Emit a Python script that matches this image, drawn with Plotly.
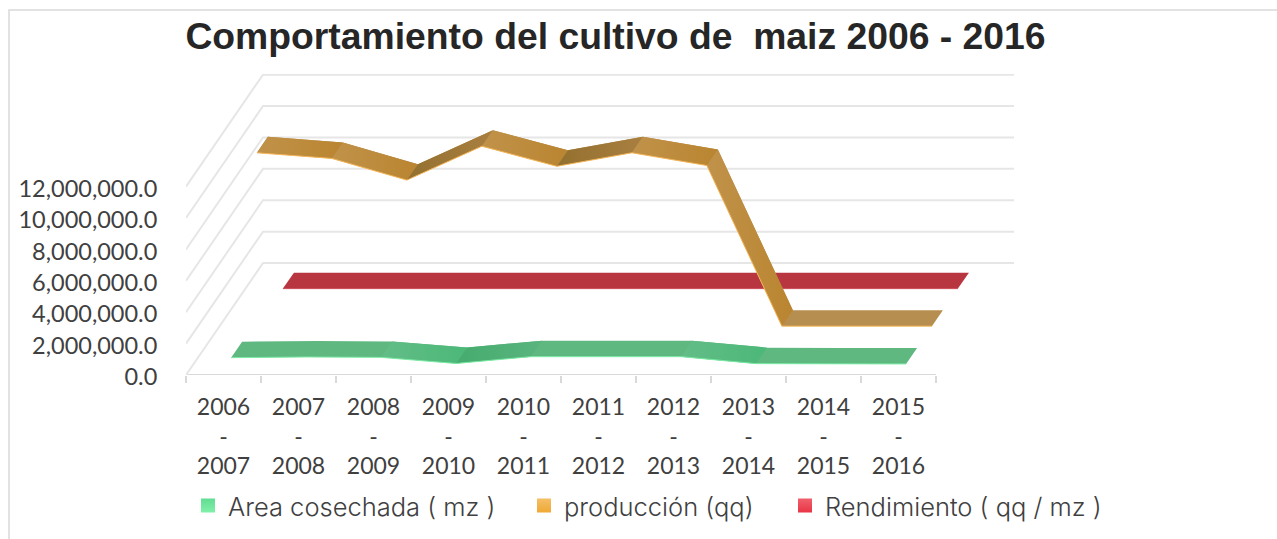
import plotly.graph_objects as go

categories = ["2006<br>-<br>2007", "2007<br>-<br>2008", "2008<br>-<br>2009", "2009<br>-<br>2010", "2010<br>-<br>2011",
              "2011<br>-<br>2012", "2012<br>-<br>2013", "2013<br>-<br>2014", "2014<br>-<br>2015", "2015<br>-<br>2016"]
area = [400000, 445000, 420000, 30000, 465000, 465000, 465000, 20000, 0, 0]
produccion = [11060000, 10700000, 9320000, 11480000, 10200000, 11060000, 10250000, 20000, 20000, 20000]
rendimiento = [25, 25, 25, 25, 25, 25, 25, 25, 25, 25]
y_ticks = [0, 2000000, 4000000, 6000000, 8000000, 10000000, 12000000]

FONT = "Lato"
TEXT = "#404040"
GRID = "#E6E6E6"

# pixel box of the plot area, the axes below are fitted to it
WIDTH, HEIGHT = 1277, 539
LEFT, RIGHT, TOP, BOTTOM = 186, 1014, 74, 375
X_MIN, X_MAX = -0.5, 10.54
Y_MAX = 19170000

# fake 3d: how far the back wall is shifted from the front, in axis units
DEPTH_X = 77 / 75
DEPTH_Y = 7130000
RIBBON = 0.0714


def px_x(px):
    return (px - LEFT) / (RIGHT - LEFT)


def px_y(py):
    return (BOTTOM - py) / (BOTTOM - TOP)


def project(i, value, depth):
    return i + depth * DEPTH_X, value + depth * DEPTH_Y


def add_ribbon(fig, values, depth, base, colors, edge):
    front = [project(i, v, depth - RIBBON) for i, v in enumerate(values)]
    back = [project(i, v, depth + RIBBON) for i, v in enumerate(values)]
    # whole ribbon underneath so no seams show between the segments
    outline = front + back[::-1] + front[:1]
    fig.add_trace(go.Scatter(x=[p[0] for p in outline], y=[p[1] for p in outline], mode="none", fill="toself",
                             fillcolor=base, showlegend=False, hoverinfo="skip"))
    for i, pair in enumerate(colors):
        if pair is None:
            continue
        corners = [front[i], front[i + 1], back[i + 1], back[i], front[i]]
        fig.add_trace(go.Scatter(x=[c[0] for c in corners], y=[c[1] for c in corners], mode="none", fill="toself",
                                 showlegend=False, hoverinfo="skip",
                                 fillgradient=dict(type="horizontal", colorscale=[[0, pair[0]], [1, pair[1]]])))
    fig.add_trace(go.Scatter(x=[p[0] for p in front], y=[p[1] for p in front], mode="lines",
                             line=dict(color=edge, width=1), showlegend=False, hoverinfo="skip"))


fig = go.Figure()

# walls
for v in y_ticks:
    fig.add_trace(go.Scatter(x=[X_MIN, X_MIN + DEPTH_X, X_MAX], y=[v, v + DEPTH_Y, v + DEPTH_Y], mode="lines",
                             line=dict(color=GRID, width=2), showlegend=False, hoverinfo="skip"))

GREEN_DOWN = ("#63BD87", "#4BB878")
GREEN_UP = ("#45AB6E", "#5AB57E")
ORANGE_DOWN = ("#C0924A", "#BA8530")
ORANGE_UP = ("#93702F", "#A97F40")

add_ribbon(fig, rendimiento, 0.843, "#B83640", [None] * 9, "#C94A54")
add_ribbon(fig, produccion, 0.505, "#B68F50",
           [ORANGE_DOWN, ORANGE_DOWN, ORANGE_UP, ORANGE_DOWN, ORANGE_UP, ORANGE_DOWN, ORANGE_DOWN, None, None],
           "#F5B75A")
add_ribbon(fig, area, 0.17, "#5FB880",
           [None, None, GREEN_DOWN, GREEN_UP, None, None, GREEN_DOWN, None, None],
           "#7CEBA5")

# legend entries, one legend each so they can sit where the original has them
for name, top, bottom, key in [("Area cosechada ( mz )", "#62DC93", "#80F0AA", "legend"),
                               ("producción (qq)", "#F5BE68", "#F0A934", "legend2"),
                               ("Rendimiento ( qq / mz )", "#F0606C", "#E83444", "legend3")]:
    fig.add_trace(go.Scatter(x=[None], y=[None], mode="markers", name=name, legend=key,
                             marker=dict(symbol="square", size=14, color=top, line=dict(width=0),
                                         gradient=dict(type="vertical", color=bottom))))

legend_style = dict(orientation="h", xanchor="left", yanchor="middle", y=px_y(506), bgcolor="rgba(0,0,0,0)",
                    font=dict(family="Inter", size=25.5, color=TEXT, weight=300))

fig.update_layout(
    width=WIDTH, height=HEIGHT,
    margin=dict(l=LEFT, r=WIDTH - RIGHT, t=TOP, b=HEIGHT - BOTTOM, autoexpand=False),
    paper_bgcolor="white", plot_bgcolor="white",
    title=dict(text="Comportamiento del cultivo de  maiz 2006 - 2016", xref="container", yref="container",
               x=615.5 / WIDTH, y=1 - 35.5 / HEIGHT, xanchor="center", yanchor="middle",
               font=dict(family="Liberation Sans", size=37.3, color="#262626", weight="bold")),
    legend=dict(x=px_x(188), **legend_style),
    legend2=dict(x=px_x(524), **legend_style),
    legend3=dict(x=px_x(785), **legend_style),
    xaxis=dict(range=[X_MIN, X_MAX], tickmode="array", tickvals=list(range(10)), ticktext=categories,
               ticks="outside", ticklen=11, tickcolor="rgba(0,0,0,0)", showgrid=False, zeroline=False,
               showline=False, tickangle=0, tickfont=dict(family=FONT, size=23, color=TEXT),
               minor=dict(tickmode="array", tickvals=[i - 0.5 for i in range(11)], ticks="outside", ticklen=7,
                          tickcolor="#D9D9D9", tickwidth=1.5, showgrid=False)),
    yaxis=dict(range=[0, Y_MAX], tickmode="array", tickvals=y_ticks, tickformat=",.1f", showgrid=False,
               zeroline=False, showline=False, ticks="outside", ticklen=23, tickcolor="rgba(0,0,0,0)",
               ticklabelshift=2, tickfont=dict(family=FONT, size=23.5, color=TEXT)),
    shapes=[dict(type="line", xref="x", yref="y", x0=X_MIN, x1=9.5, y0=0, y1=0, layer="below",
                 line=dict(color="#D9D9D9", width=2)),
            dict(type="rect", xref="paper", yref="paper", x0=px_x(9), x1=px_x(1300), y0=px_y(10), y1=px_y(560),
                 layer="below", line=dict(color="#D9D9D9", width=1.5))],
)

# drop the default body margin so pixels line up with the window
fig.write_html("out.html", config={"displayModeBar": False}, post_script="document.body.style.margin='0';")
